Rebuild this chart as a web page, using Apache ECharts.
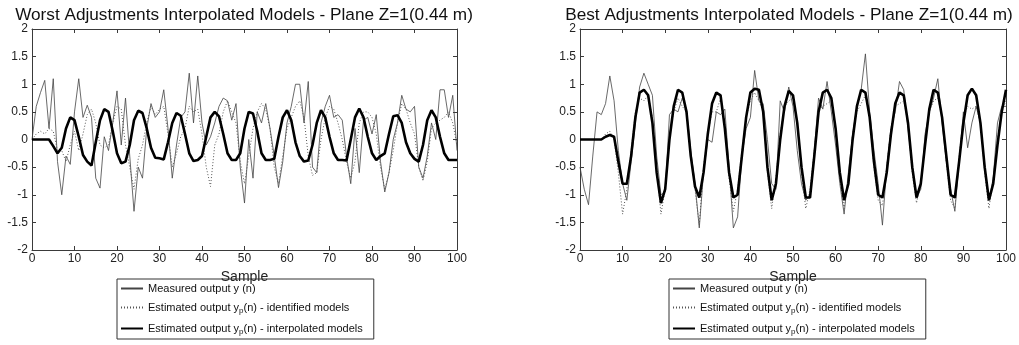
<!DOCTYPE html>
<html>
<head>
<meta charset="utf-8">
<script src="https://cdn.jsdelivr.net/npm/echarts@6/dist/echarts.min.js"></script>
<style>
  html, body { margin: 0; padding: 0; background: #fff; }
  #chart { width: 1019px; height: 345px; }
</style>
</head>
<body>
<div id="chart"></div>
<script>
// values, one per sample n = 0..100
const worstMeasured = [
  0, 0.6, 0.85, 1.07, 0.2, 1.1, -0.4, -1.0, -0.3, -0.45,
  0.5, 1.1, 0.4, 0.62, 0.4, -0.7, -0.88, 0.05, -0.2, 0.3,
  0.88, -0.1, 0.75, -0.3, -1.3, -0.5, -0.7, 0.2, 0.65, 0.4,
  0.5, 0.9, 0.2, -0.7, -0.1, 0.4, 0.5, 1.2, 0.3, 1.15,
  0.3, -0.1, 0.05, 0.3, 0.6, 0.75, 0.7, 0.35, 0.65, -0.5,
  -1.15, 0.0, -0.7, 0.5, 0.3, 0.65, 0.2, -0.3, -0.87, -0.4,
  0.3, 0.6, 1.0, 1.0, 0.3, 1.05, -0.5, -0.6, 0.3, 0.6,
  0.8, 0.4, 0.45, 0.35, -0.3, -0.8, 0.2, -0.6, 0.35, 0.4,
  0.1, 0.45, -0.4, -0.95, -0.6, 0.0, 0.3, 0.8, 0.55, 0.5,
  0.6, -0.5, -0.7, -0.3, 0.3, 0.0, 0.9, 0.9, 0.4, 0.8,
  -0.2
]
const worstIdentified = [
  0, 0.1, 0.15, 0.1, 0.2, 0.15, -0.2, -0.2, -0.4, -0.1,
  0.15, -0.2, 0.1, 0.45, 0.55, 0.3, -0.1, -0.15, -0.1, 0.3,
  0.6, 0.55, -0.1, -0.5, -0.9, -0.35, -0.1, 0.3, 0.6, 0.45,
  0.55, 0.6, 0.1, -0.5, -0.25, 0.05, 0.2, 0.6, 0.5, 0.55,
  0.1, -0.5, -0.85, -0.1, 0.1, 0.5, 0.7, 0.5, 0.3, -0.4,
  -0.8, -0.3, 0.2, 0.5, 0.65, 0.55, 0.2, -0.5, -0.8, -0.3,
  0.2, 0.4, 0.6, 0.7, 0.4, -0.3, -0.65, -0.6, 0.0, 0.4,
  0.6, 0.55, 0.3, 0.0, -0.4, -0.7, -0.4, 0.3, 0.5, 0.5,
  0.4, 0.1, -0.5, -0.9, -0.6, -0.2, 0.3, 0.65, 0.55, 0.3,
  0.1, -0.5, -0.75, -0.4, 0.2, 0.3, 0.35, 0.4, 0.5, 0.3,
  -0.1
]
const worstInterpolated = [
  0, 0, 0, 0, 0, -0.12, -0.25, -0.15, 0.2, 0.4,
  0.35, 0.05, -0.28, -0.4, -0.47, -0.05, 0.35, 0.55, 0.5, 0.15,
  -0.25, -0.43, -0.4, -0.1, 0.35, 0.52, 0.48, 0.2, -0.15, -0.33,
  -0.34, -0.36, -0.05, 0.3, 0.48, 0.43, 0.1, -0.25, -0.39, -0.37,
  -0.3, 0.05, 0.4, 0.5, 0.42, 0.1, -0.25, -0.37, -0.37, -0.25,
  0.2, 0.5, 0.47, 0.15, -0.25, -0.37, -0.37, -0.35, 0.05, 0.4,
  0.53, 0.35, -0.05, -0.3, -0.4, -0.38, -0.1, 0.3, 0.53, 0.4,
  0.05, -0.25, -0.37, -0.37, -0.38, 0.0, 0.4, 0.56, 0.4, 0.05,
  -0.25, -0.37, -0.3, -0.25, 0.1, 0.42, 0.44, 0.3, -0.05, -0.25,
  -0.35, -0.4, -0.1, 0.35, 0.53, 0.4, 0.05, -0.25, -0.37, -0.37,
  -0.37
]
const bestMeasured = [
  -0.5, -0.9, -1.18, -0.3, 0.5, 0.45, 0.65, 1.15, 0.7, -0.2,
  -0.8, -1.1, -0.4, 0.3, 0.95, 1.2, 1.0, 0.8, -0.3, -1.0,
  -0.95, 0.45, 0.55, 0.5, 0.75, 0.55, -0.2, -0.8, -1.6, -0.6,
  0.0, -0.05, 0.5, 0.45, 0.55, -0.5, -1.6, -1.4, -0.3, 0.2,
  0.4, 1.25, 0.7, 0.65, 0.0, -0.8, -0.9, 0.7, 0.5, 0.95,
  0.6, -0.2, -0.8, -1.1, -1.0, -0.2, 0.75, 0.55, 1.05, 0.5,
  -0.1, -0.8, -1.35, -0.6, 0.1, 0.6, 0.9, 1.55, 0.5, -0.2,
  -0.8, -1.55, -0.5, 0.2, 0.5, 1.05, 0.9, 0.2, -0.5, -1.05,
  -0.9, 0.1, 0.5, 0.75, 1.1, 0.3, -0.4, -0.9, -1.3, -0.4,
  0.5, -0.15, 0.3, 0.6, 0.3, -0.5, -1.1, -0.7, 0.3, 0.6,
  0.6
]
const bestIdentified = [
  0, 0, 0, 0, 0, 0, 0.1, 0.15, 0.0, -0.6,
  -1.35, -0.9, -0.2, 0.5, 0.75, 0.7, 0.8, 0.4, -0.5, -1.35,
  -0.9, 0.1, 0.5, 0.75, 0.6, 0.5, -0.3, -0.9, -1.55, -0.5,
  0.1, 0.5, 0.5, 0.75, 0.3, -0.7, -1.3, -0.9, -0.2, 0.4,
  0.7, 0.85, 0.7, 0.5, -0.6, -1.25, -0.7, 0.1, 0.6, 0.7,
  0.75, 0.3, -0.6, -1.25, -0.9, -0.2, 0.55, 0.6, 0.65, 0.7,
  0.2, -0.7, -1.25, -0.7, 0.1, 0.5, 0.65, 0.8, 0.4, -0.5,
  -1.1, -1.2, -0.5, 0.2, 0.6, 0.65, 0.7, 0.3, -0.6, -1.15,
  -0.8, -0.1, 0.5, 0.7, 0.75, 0.4, -0.4, -1.1, -1.25, -0.3,
  0.4, 0.6, 0.55, 0.6, 0.3, -0.6, -1.25, -0.7, 0.0, 0.5,
  0.7
]
const bestInterpolated = [
  0, 0, 0, 0, 0, 0, 0.05, 0.08, 0.05, -0.4,
  -0.8, -0.8, -0.3, 0.4, 0.85, 0.9, 0.8, 0.3, -0.6, -1.15,
  -0.9, 0.0, 0.6, 0.9, 0.85, 0.5, -0.3, -0.85, -1.05, -0.6,
  0.1, 0.65, 0.85, 0.8, 0.2, -0.6, -1.05, -1.0, -0.3, 0.4,
  0.85, 0.92, 0.9, 0.5, -0.5, -1.1, -0.8, 0.0, 0.6, 0.88,
  0.8, 0.3, -0.5, -1.05, -1.05, -0.3, 0.5, 0.85, 0.9, 0.75,
  0.2, -0.6, -1.1, -0.8, 0.0, 0.6, 0.9, 0.85, 0.4, -0.4,
  -1.0, -1.05, -0.6, 0.1, 0.65, 0.85, 0.8, 0.3, -0.5, -1.05,
  -0.8, -0.1, 0.55, 0.9, 0.85, 0.4, -0.3, -1.0, -1.05, -0.4,
  0.3, 0.8, 0.92, 0.8, 0.3, -0.5, -1.1, -0.8, -0.1, 0.5,
  0.9
]

const titles = [
  'Worst Adjustments Interpolated Models - Plane Z=1(0.44 m)',
  'Best Adjustments Interpolated Models - Plane Z=1(0.44 m)'
]
const seriesNames = [
  'Measured output y (n)',
  'Estimated output yp(n) - identified models',
  'Estimated output yp(n) - interpolated models'
]
const legendLabels = [
  'Measured output y (n)',
  'Estimated output y{sub|p}(n) - identified models',
  'Estimated output y{sub|p}(n) - interpolated models'
]

const font = 'Liberation Sans, Arial, sans-serif'
const axisColor = '#3a3a3a'

const chart = echarts.init(document.getElementById('chart'))

const grids = [
  { left: 32, right: 562, top: 29, bottom: 95 },
  { left: 580, right: 13, top: 29, bottom: 95 }
]
const centers = [239, 784]
const legendLeft = [117, 669]
const plots = [
  [worstMeasured, worstIdentified, worstInterpolated],
  [bestMeasured, bestIdentified, bestInterpolated]
]

const toPairs = arr => arr.map((v, i) => [i, v])

const xAxes = []
const yAxes = []
const series = []
grids.forEach((g, gi) => {
  xAxes.push({
    gridIndex: gi, type: 'value', min: 0, max: 100, interval: 10,
    name: 'Sample', nameLocation: 'middle', nameGap: 14,
    nameTextStyle: { fontFamily: font, fontSize: 14, color: '#222' },
    axisLine: { onZero: false, lineStyle: { color: axisColor, width: 1 } },
    axisTick: { inside: true, length: 4, lineStyle: { color: axisColor } },
    axisLabel: { fontFamily: font, fontSize: 12, color: '#222', margin: 3 },
    splitLine: { show: false }
  })
  xAxes.push({
    gridIndex: gi, type: 'value', min: 0, max: 100, interval: 10, position: 'top',
    axisLine: { onZero: false, lineStyle: { color: axisColor, width: 1 } },
    axisTick: { inside: true, length: 4, lineStyle: { color: axisColor } },
    axisLabel: { show: false },
    splitLine: { show: false }
  })
  yAxes.push({
    gridIndex: gi, type: 'value', min: -2, max: 2, interval: 0.5,
    axisLine: { show: true, onZero: false, lineStyle: { color: axisColor, width: 1 } },
    axisTick: { show: true, inside: true, length: 4, lineStyle: { color: axisColor } },
    axisLabel: { fontFamily: font, fontSize: 12, color: '#222', margin: 4 },
    splitLine: { show: false }
  })
  yAxes.push({
    gridIndex: gi, type: 'value', min: -2, max: 2, interval: 0.5, position: 'right',
    axisLine: { show: true, onZero: false, lineStyle: { color: axisColor, width: 1 } },
    axisTick: { show: true, inside: true, length: 4, lineStyle: { color: axisColor } },
    axisLabel: { show: false },
    splitLine: { show: false }
  })

  const [measured, identified, interpolated] = plots[gi]
  series.push({
    name: seriesNames[0], type: 'line', xAxisIndex: gi * 2, yAxisIndex: gi * 2,
    data: toPairs(measured), symbol: 'none', silent: true, color: '#444',
    lineStyle: { color: '#444', width: 0.8 }
  })
  series.push({
    name: seriesNames[1], type: 'line', xAxisIndex: gi * 2, yAxisIndex: gi * 2,
    data: toPairs(identified), symbol: 'none', silent: true, color: '#555',
    lineStyle: { color: '#555', width: 1, type: [1, 2] }
  })
  series.push({
    name: seriesNames[2], type: 'line', xAxisIndex: gi * 2, yAxisIndex: gi * 2,
    data: toPairs(interpolated), symbol: 'none', silent: true, color: '#000',
    lineStyle: { color: '#000', width: 2.6 }
  })
})

const option = {
  backgroundColor: '#fff',
  animation: false,
  title: titles.map((t, i) => ({
    text: t, left: centers[i], top: 2, textAlign: 'center',
    textStyle: { fontFamily: font, fontSize: 17.2, fontWeight: 'normal', color: '#111' }
  })),
  grid: grids,
  xAxis: xAxes,
  yAxis: yAxes,
  legend: legendLeft.map(l => ({
    left: l, top: 279, orient: 'vertical',
    data: seriesNames,
    itemWidth: 22, itemHeight: 13, itemGap: 8,
    padding: [4, 11, 3, 3],
    borderColor: '#333', borderWidth: 1,
    selectedMode: false,
    itemStyle: { opacity: 0 },
    formatter: name => legendLabels[seriesNames.indexOf(name)],
    textStyle: {
      fontFamily: font, fontSize: 11, color: '#111',
      rich: { sub: { fontFamily: font, fontSize: 8, color: '#111', padding: [7, 0, 0, 0] } }
    }
  })),
  series: series
}

chart.setOption(option)
</script>
</body>
</html>
